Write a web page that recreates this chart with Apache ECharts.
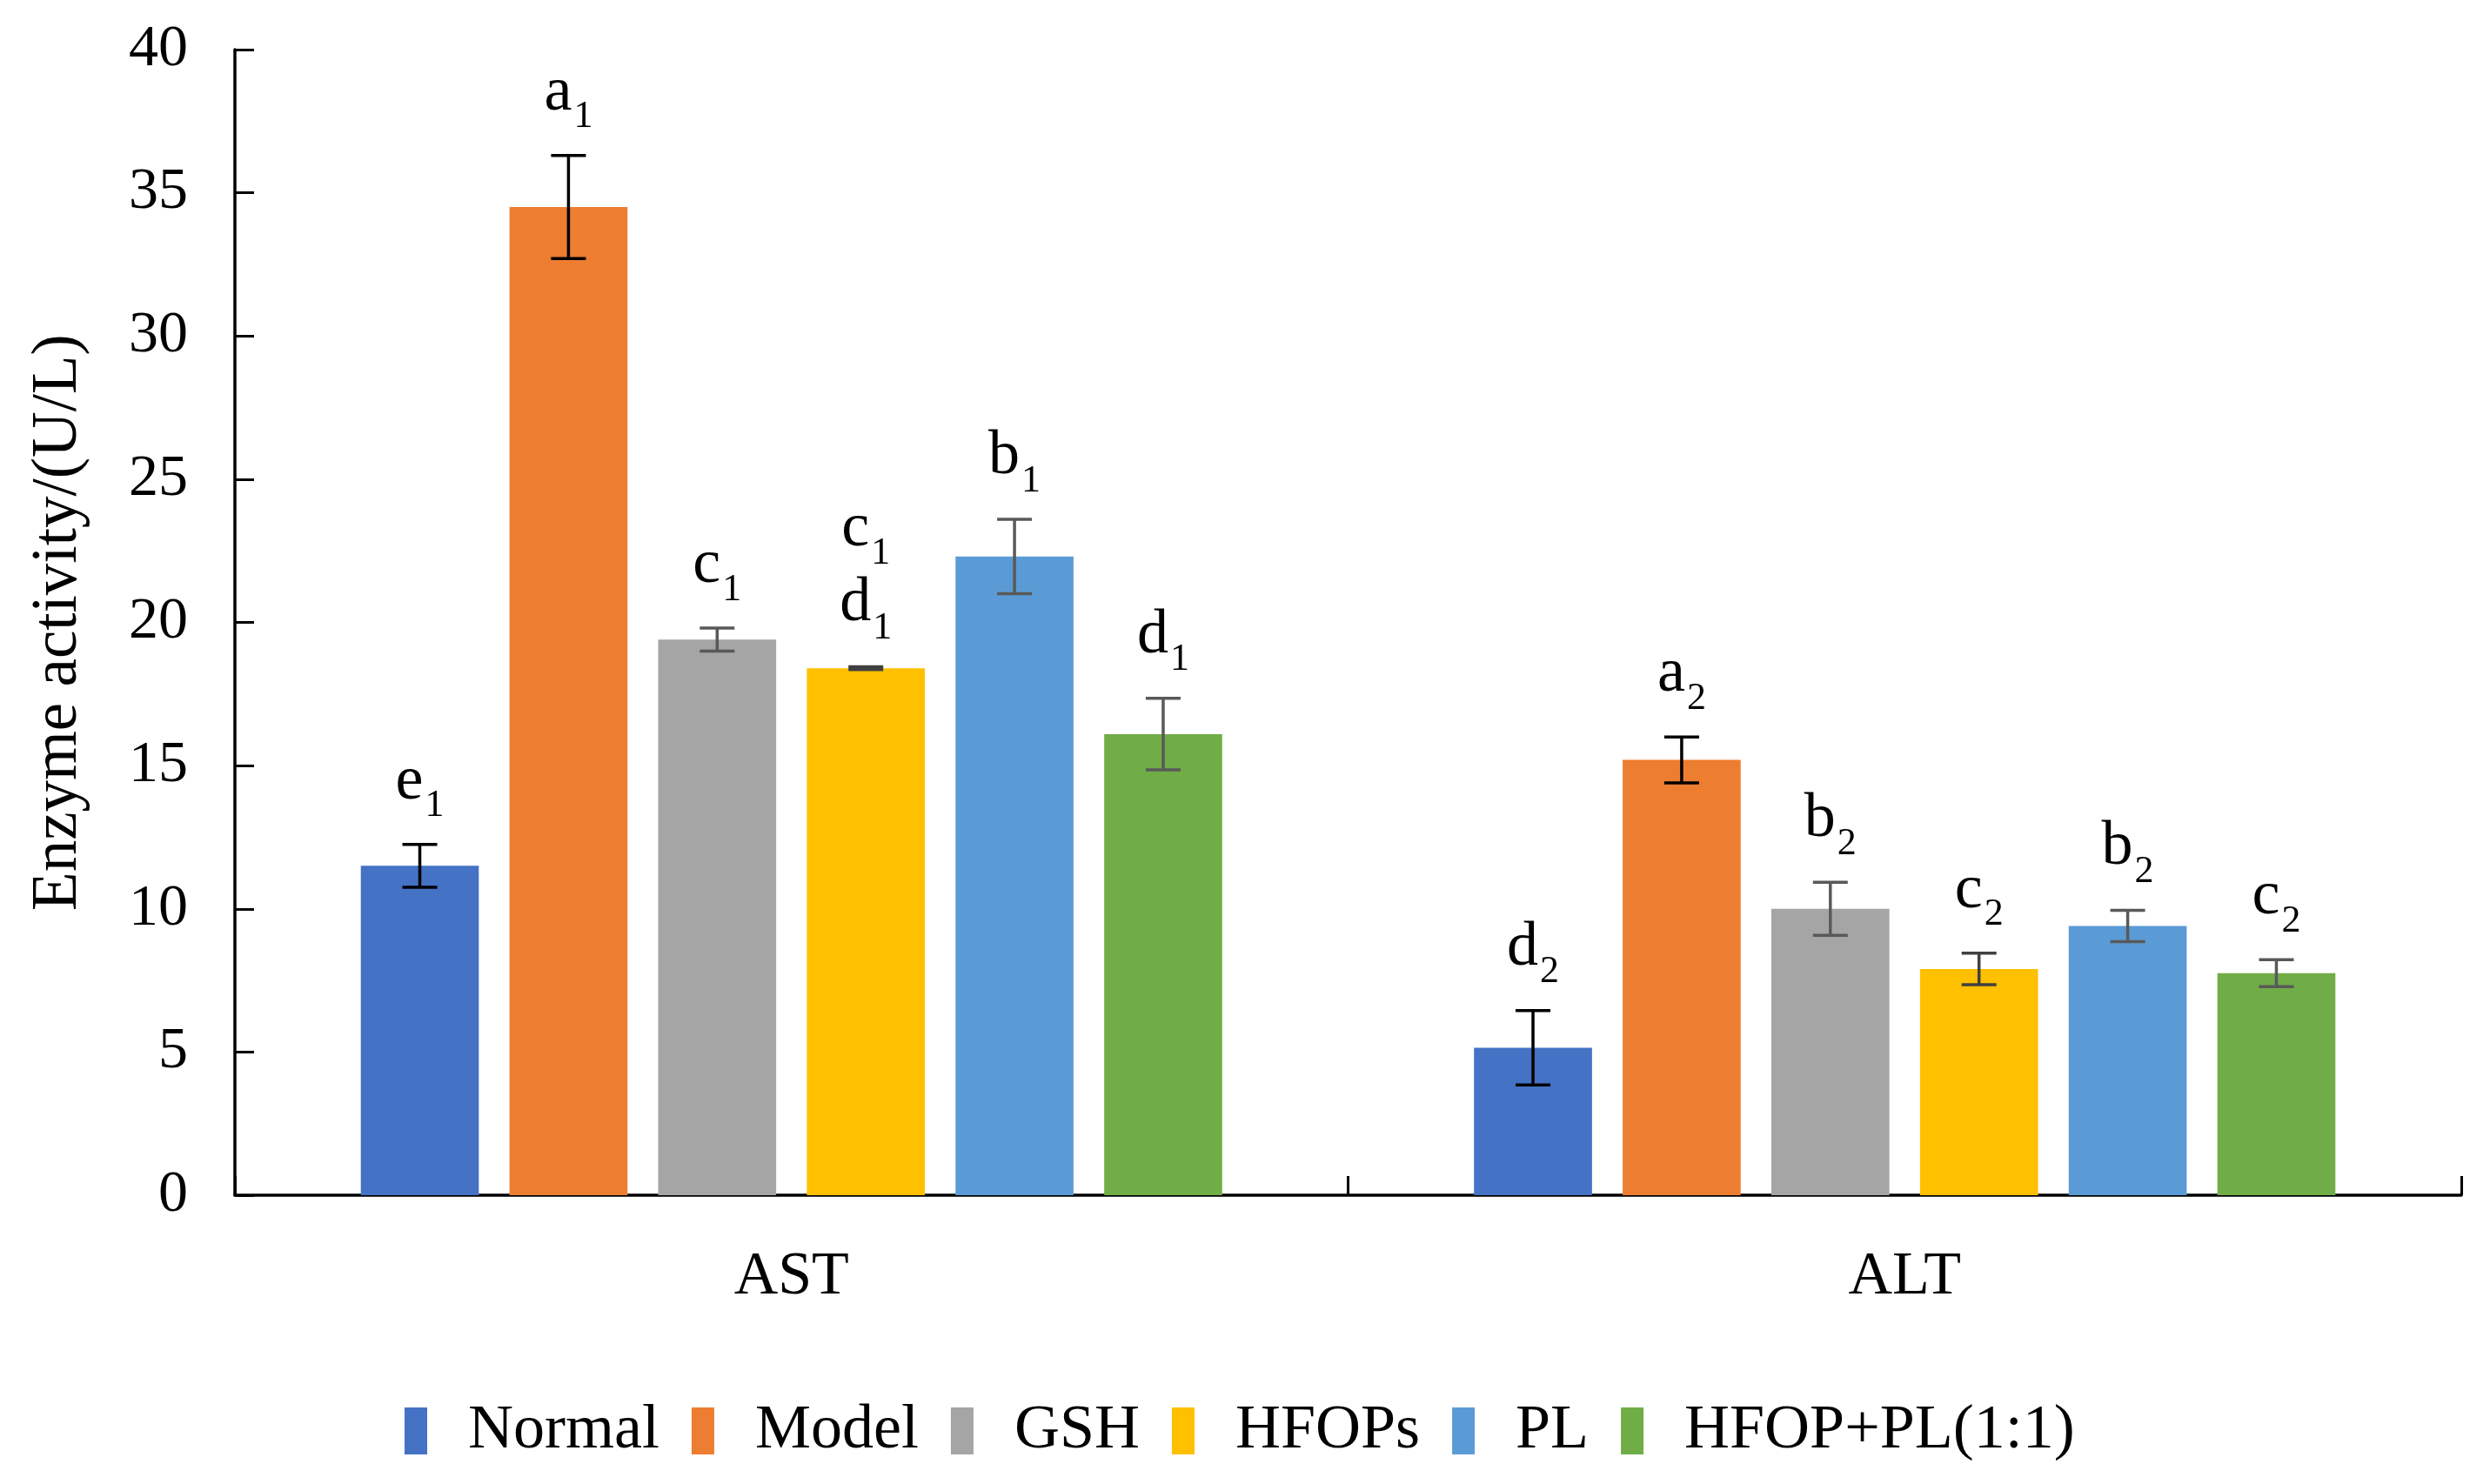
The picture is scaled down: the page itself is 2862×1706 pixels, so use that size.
<!DOCTYPE html>
<html>
<head>
<meta charset="utf-8">
<script src="https://cdn.jsdelivr.net/npm/echarts@6/dist/echarts.min.js"></script>
<style>html,body{margin:0;padding:0;background:#fff;}#chart{width:2862px;height:1706px;}</style>
</head>
<body>
<div id="chart"></div>
<script>
const categories = ['AST', 'ALT'];
const groups = ['Normal', 'Model', 'GSH', 'HFOPs', 'PL', 'HFOP+PL(1:1)'];
const astMeans = [11.5, 34.5, 19.4, 18.4, 22.3, 16.1];
const astErrors = [0.75, 1.8, 0.4, 0.05, 1.3, 1.25];
const altMeans = [5.15, 15.2, 10.0, 7.9, 9.4, 7.75];
const altErrors = [1.3, 0.8, 0.93, 0.55, 0.55, 0.47];
const astLetters = ['e1', 'a1', 'c1', 'c1\nd1', 'b1', 'd1'];
const altLetters = ['d2', 'a2', 'b2', 'c2', 'b2', 'c2'];
const yTicks = {min: 0, max: 40, interval: 5};

const colors = ['#4472C4', '#ED7D31', '#A5A5A5', '#FFC000', '#5B9BD5', '#70AD47'];
const errColors = ['#000000', '#000000', '#595959', '#404040', '#595959', '#595959'];
const FONT = '"Liberation Serif", "Times New Roman", serif';
const BAR_W = 0.106, BAR_GAP = 0.26;

function toRich(s) {
  return s.split('\n').map(line => '{m|' + line.slice(0, -1) + '}{s|' + line.slice(-1) + '}').join('\n');
}

const chart = echarts.init(document.getElementById('chart'));
const series = [];
groups.forEach((g, gi) => {
  series.push({
    name: g, type: 'bar',
    data: [astMeans[gi], altMeans[gi]],
    barWidth: (BAR_W * 100) + '%', barGap: (BAR_GAP * 100) + '%',
    itemStyle: {color: colors[gi]},
    z: 2
  });
});
groups.forEach((g, gi) => {
  series.push({
    type: 'custom', name: g + '_err',
    data: [[0, astMeans[gi], astErrors[gi]], [1, altMeans[gi], altErrors[gi]]],
    encode: {x: 0, y: 1},
    z: 5, silent: true,
    renderItem: function (params, api) {
      const ci = api.value(0), v = api.value(1), e = api.value(2);
      const c = api.coord([ci, v]);
      const band = api.size([1, 0])[0];
      const bw = band * BAR_W;
      const x = c[0] + (gi - 2.5) * bw * (1 + BAR_GAP);
      const yt = api.coord([ci, v + e])[1];
      const yb = api.coord([ci, v - e])[1];
      const cap = 20;
      const st = {stroke: errColors[gi], lineWidth: 3.5};
      const label = (params.dataIndex === 0 ? astLetters : altLetters)[gi];
      return {
        type: 'group',
        children: [
          {type: 'line', shape: {x1: x, y1: yt, x2: x, y2: yb}, style: st},
          {type: 'line', shape: {x1: x - cap, y1: yt, x2: x + cap, y2: yt}, style: st},
          {type: 'line', shape: {x1: x - cap, y1: yb, x2: x + cap, y2: yb}, style: st},
          {type: 'text', x: x, y: yt - 22,
            style: {
              text: toRich(label), align: 'center', verticalAlign: 'bottom',
              fill: '#000', font: '72px ' + FONT,
              rich: {
                m: {fontFamily: FONT, fontSize: 72, lineHeight: 86, verticalAlign: 'top', fill: '#000'},
                s: {fontFamily: FONT, fontSize: 44, lineHeight: 44, padding: [42, 0, 0, 2], verticalAlign: 'top', fill: '#000'}
              }
            }}
        ]
      };
    }
  });
});

chart.setOption({
  backgroundColor: '#ffffff',
  animation: false,
  grid: {left: 270, right: 33, top: 57, bottom: 332, containLabel: false},
  legend: {
    data: groups, bottom: 20, left: 460,
    icon: 'rect', itemWidth: 26, itemHeight: 54, itemGap: 37,
    textStyle: {fontFamily: FONT, fontSize: 72, color: '#000', padding: [0, 0, 0, 42]}
  },
  xAxis: {
    type: 'category', data: categories,
    axisLine: {lineStyle: {color: '#000', width: 3.5}},
    axisTick: {show: true, inside: true, length: 22, lineStyle: {color: '#000', width: 3}},
    axisLabel: {fontFamily: FONT, fontSize: 70, color: '#000', margin: 60}
  },
  yAxis: {
    type: 'value', min: yTicks.min, max: yTicks.max, interval: yTicks.interval,
    name: 'Enzyme activity/(U/L)', nameLocation: 'middle', nameGap: 166,
    nameTextStyle: {fontFamily: FONT, fontSize: 73, color: '#000'},
    axisLine: {show: true, lineStyle: {color: '#000', width: 3.5}},
    axisTick: {show: true, inside: true, length: 22, lineStyle: {color: '#000', width: 3}},
    axisLabel: {fontFamily: FONT, fontSize: 68, color: '#000', margin: 54},
    splitLine: {show: false}
  },
  series: series
});
</script>
</body>
</html>
